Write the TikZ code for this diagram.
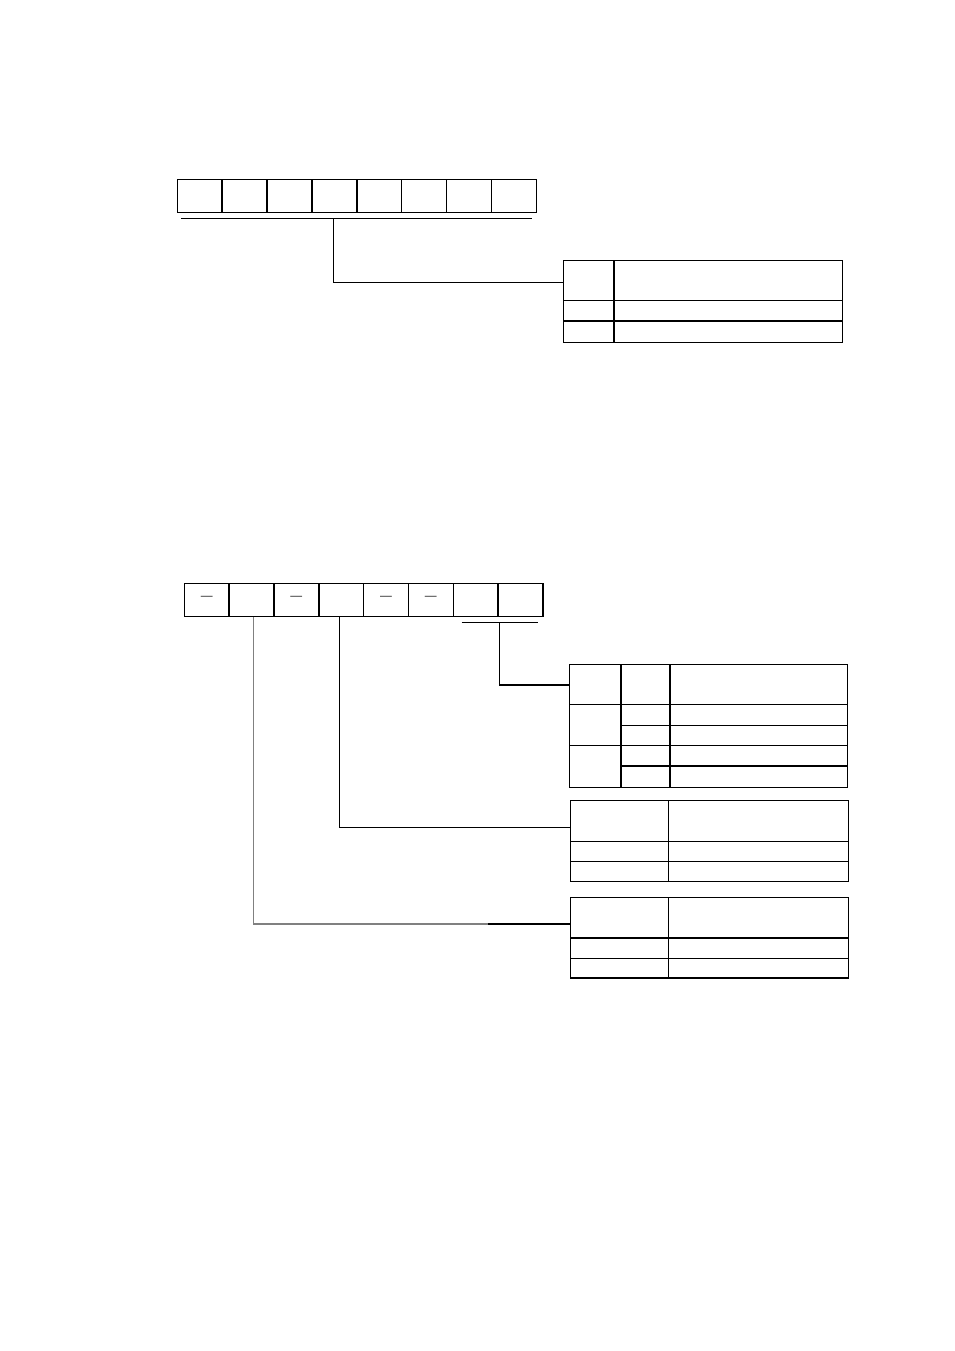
\documentclass[tikz,border=0pt]{standalone}
\usepackage{tikz}
\usetikzlibrary{calc,positioning}
\tikzstyle{cell} = [draw, line width=0.8pt, inner sep=0pt, minimum width=0.897cm, minimum height=0.66cm, font=\large\bfseries]
\tikzstyle{wire} = [line width=0.8pt]
\tikzstyle{grid} = [line width=0.8pt]

\begin{document}
\begin{tikzpicture}[x=0.02cm,y=-0.02cm]
    \useasboundingbox (0,0) rectangle (954,1351);

    % upper code: eight empty places
    \foreach \i in {1,...,8}{%
        \node[cell] (t\i) at ({177.3+44.875*(\i-0.5)},195.8) {};}

    \coordinate (TopL)  at (181,218.3);
    \coordinate (TopR)  at (531.7,218.3);
    \coordinate (TopK)  at (333.3,218.3);
    \coordinate (TabAin) at (563.3,282.3);
    \draw[wire] (TopL) -- (TopR);
    \draw[wire] (TopK) |- (TabAin);

    % table A
    \draw[grid] (563.3,260.7) rectangle (842.7,342.7);
    \draw[grid] (614,260.7) -- (614,342.7);
    \draw[grid] (563.3,300.3) -- (842.7,300.3);
    \draw[grid] (563.3,321) -- (842.7,321);

    % lower code: some places are fixed by a dash
    \foreach \i/\txt in {1/--,2/,3/--,4/,5/--,6/--,7/,8/}{%
        \node[cell] (b\i) at ({184.3+44.84*(\i-0.5)},599.8) {\txt};}

    \coordinate (BarL)  at (461.7,622.3);
    \coordinate (BarR)  at (537.7,622.3);
    \coordinate (BarK)  at (499.3,622.3);
    \coordinate (TabBin) at (569.3,685);
    \coordinate (TabCin) at (570.3,827.3);
    \coordinate (GrayK) at (488.3,924);
    \coordinate (TabDin) at (570.3,924);
    \draw[wire] (BarL) -- (BarR);
    \draw[wire] (BarK) |- (TabBin);
    \draw[wire] ($(b4.south)+(-1.7,0)$) |- (TabCin);
    \draw[wire, gray] ($(b2.south)+(2.2,0)$) |- (GrayK);
    \draw[wire] (GrayK) -- (TabDin);

    % table B
    \draw[grid] (569.3,664.3) rectangle (847.7,787.3);
    \draw[grid] (621,664.3) -- (621,787.3);
    \draw[grid] (670,664.3) -- (670,787.3);
    \draw[grid] (569.3,704.3) -- (847.7,704.3);
    \draw[grid] (569.3,745.3) -- (847.7,745.3);
    \draw[grid] (621,725.3) -- (847.7,725.3);
    \draw[grid] (621,766) -- (847.7,766);

    % table C
    \draw[grid] (570.3,800.7) rectangle (848.7,881.7);
    \draw[grid] (668.3,800.7) -- (668.3,881.7);
    \draw[grid] (570.3,841.7) -- (848.7,841.7);
    \draw[grid] (570.3,861.3) -- (848.7,861.3);

    % table D
    \draw[grid] (570.3,897.3) rectangle (848.7,978);
    \draw[grid] (668.3,897.3) -- (668.3,978);
    \draw[grid] (570.3,938) -- (848.7,938);
    \draw[grid] (570.3,958.7) -- (848.7,958.7);
\end{tikzpicture}
\end{document}
